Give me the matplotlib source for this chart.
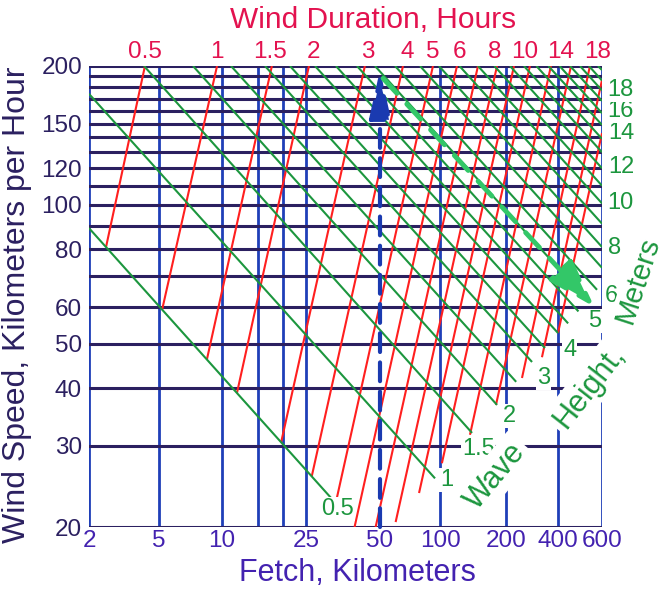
import numpy as np
import matplotlib.pyplot as plt
from matplotlib.ticker import NullLocator

plt.rcParams['font.family'] = ['Liberation Sans', 'DejaVu Sans']

# grid and ticks
speed_lines = [20, 30, 40, 50, 60, 70, 80, 90, 100, 110, 120, 130, 140,
               150, 160, 170, 180, 190, 200]
speed_ticks = [20, 30, 40, 50, 60, 80, 100, 120, 150, 200]
fetch_lines = [2, 5, 10, 15, 20, 25, 100, 200, 400, 600]
fetch_ticks = [2, 5, 10, 25, 50, 100, 200, 400, 600]

# the fetch axis of the original chart is drawn by hand, not a clean log:
# calibration points (fetch km -> position along the axis)
fetch_knots = [1, 2, 5, 10, 15, 20, 25, 50, 100, 200, 400, 600, 1000]
knot_pos = [36, 89, 159, 222, 258, 283, 306, 380, 440, 506, 558, 602, 657]

# wave height lines (m): start and end points (fetch km, speed km/h)
wave_h = [0.5, 1, 1.5, 2, 2.5, 3, 3.5, 4, 4.5, 5, 5.5, 6, 7, 8, 9, 10,
          11, 12, 13, 14, 15, 16, 17, 18, 19, 20]
wave_f0 = [2, 2, 4.11, 7.27, 11.07, 16.26, 21.4, 27.2, 33.1, 40.3, 47.7,
           59.5, 79.4, 98.8, 122.7, 149, 177, 211, 254, 300, 352, 406,
           447, 490, 532, 578]
wave_v0 = [89, 174] + [200] * 24
wave_f1 = [33.1, 94.4, 140, 182, 229, 283, 336, 400, 439, 483, 524, 573] + [600] * 14
wave_v1 = [22.5, 25.5, 32.0, 36.8, 41.3, 45.6, 48.9, 52.7, 55.3, 58.7, 62.1,
           65.4, 73, 81, 91, 100.7, 110, 120, 130, 139, 149, 158, 168,
           177, 186, 196]

wave_labels = ['0.5', '1', '1.5', '2', '3', '4', '5', '6', '8', '10',
               '12', '14', '16', '18']
wave_lab_f = [33.7, 100, 126, 193.7, 302, 419, 527, 617, 634, 628, 634,
              634, 628, 628]
wave_lab_v = [21.9, 25.3, 29.5, 34.8, 42.1, 48.4, 56, 63.4, 80.5, 100.9,
              120.8, 143, 159.5, 177.4]

# wind duration lines (hours)
dur_h = [0.5, 1, 1.5, 2, 3, 4, 5, 6, 7, 8, 9, 10, 12, 14, 16, 18, 20]
dur_f0 = [4.16, 9.47, 17.6, 25.7, 43.4, 65.2, 92.2, 119.5, 149, 182,
          222.5, 275, 364, 451, 537, 600, 600]
dur_v0 = [200] * 15 + [186.5, 143]
dur_f1 = [2.50, 5.17, 8.48, 11.84, 19.6, 26.4, 33.0, 39.4, 48.0, 59.9,
          78.5, 102, 137, 180, 247.5, 323, 400]
dur_v1 = [81, 59.1, 46.3, 39.1, 30.6, 25.8, 22.5, 20, 20, 20.5, 23.7,
          27.5, 31.7, 36.8, 42.1, 46.7, 52.7]

dur_labels = ['0.5', '1', '1.5', '2', '3', '4', '5', '6', '8', '10', '14', '18']
dur_lab_f = [4.16, 9.47, 17.2, 26.7, 44.7, 68.3, 92.2, 123, 178, 258, 411, 578]

NAVY = '#2b2060'
BLUE = '#1f3fb8'
RED = '#ff1f1f'
GREEN = '#1c963e'
CRIMSON = '#e3124f'
PURPLE = '#4322b0'


def fwd(f):
    f = np.maximum(np.asarray(f, dtype=float), 1e-6)
    return np.interp(np.log10(f), np.log10(fetch_knots), knot_pos)


def inv(p):
    return 10 ** np.interp(p, knot_pos, np.log10(fetch_knots))


fig = plt.figure(figsize=(6.68, 5.9), dpi=100)
ax = fig.add_axes([89 / 668, 63 / 590, 513 / 668, 461 / 590])
ax.set_xscale('function', functions=(fwd, inv))
ax.set_yscale('log')
ax.set_xlim(2, 600)
ax.set_ylim(20, 200)

for s in ax.spines.values():
    s.set_visible(False)

ax.set_xticks(fetch_ticks, labels=[str(v) for v in fetch_ticks])
ax.set_yticks(speed_ticks, labels=[str(v) for v in speed_ticks])
ax.xaxis.set_minor_locator(NullLocator())
ax.yaxis.set_minor_locator(NullLocator())
ax.tick_params(axis='x', length=0, pad=2, labelsize=17.5, labelcolor=PURPLE)
ax.tick_params(axis='y', length=0, pad=5, labelsize=17.5, labelcolor=NAVY)

vl = ax.vlines(fetch_lines, 20, 200, colors=BLUE, lw=2.0, zorder=1)
hl = ax.hlines(speed_lines, 2, 600, colors=NAVY, lw=2.2, zorder=1.5)
vl.set_capstyle('projecting')
hl.set_capstyle('projecting')

for f0, v0, f1, v1 in zip(dur_f0, dur_v0, dur_f1, dur_v1):
    ax.plot([f0, f1], [v0, v1], color=RED, lw=1.5, zorder=2,
            solid_capstyle='butt')
for f0, v0, f1, v1 in zip(wave_f0, wave_v0, wave_f1, wave_v1):
    ax.plot([f0, f1], [v0, v1], color=GREEN, lw=1.5, zorder=2.1,
            solid_capstyle='butt')

# dashed arrows
ax.annotate('', xy=(50, 196), xytext=(50, 20),
            arrowprops=dict(arrowstyle='-|>,head_length=2.9,head_width=0.65',
                            color='#1a3ab0', lw=3, linestyle=(0, (4.5, 2.5)),
                            shrinkA=0, shrinkB=0), zorder=3)
ax.annotate('', xy=(560, 60), xytext=(51.8, 188),
            arrowprops=dict(arrowstyle='-|>,head_length=3.0,head_width=0.95',
                            color='#33c768', lw=3.5, linestyle=(0, (4.2, 3)),
                            shrinkA=0, shrinkB=0), zorder=3)

white = dict(facecolor='white', edgecolor='none', pad=0.5)
for i, (lab, f, v) in enumerate(zip(wave_labels, wave_lab_f, wave_lab_v)):
    ax.text(f, v, lab, color=GREEN, fontsize=17, ha='center' if i == 0 else 'left',
            va='center', bbox=white, zorder=4)

for lab, f in zip(dur_labels, dur_lab_f):
    ax.annotate(lab, xy=(f, 200), xytext=(0, 6), textcoords='offset points',
                ha='center', va='baseline', color=CRIMSON, fontsize=17.5)

words = dict(color=GREEN, fontsize=22, ha='center', va='center', zorder=4,
             bbox=dict(facecolor='white', edgecolor='none', pad=3))
ax.text(178, 25.8, 'Wave', rotation=50, **words)
ax.text(532, 40.2, 'Height,', rotation=52, **words)
words.update(fontsize=21, bbox=dict(facecolor='white', edgecolor='none', pad=1))
ax.text(838, 68.7, 'Meters', rotation=72, **words)

fig.text(373 / 668, 1 - 20 / 590, 'Wind Duration, Hours', color=CRIMSON,
         fontsize=21.5, ha='center', va='center')
fig.text(357 / 668, 1 - 573 / 590, 'Fetch, Kilometers', color=PURPLE,
         fontsize=22, ha='center', va='center')
fig.text(17 / 668, 1 - 305 / 590, 'Wind Speed, Kilometers per Hour', color=NAVY,
         fontsize=23, ha='center', va='center', rotation=90)

fig.savefig('out.png', dpi=100)
